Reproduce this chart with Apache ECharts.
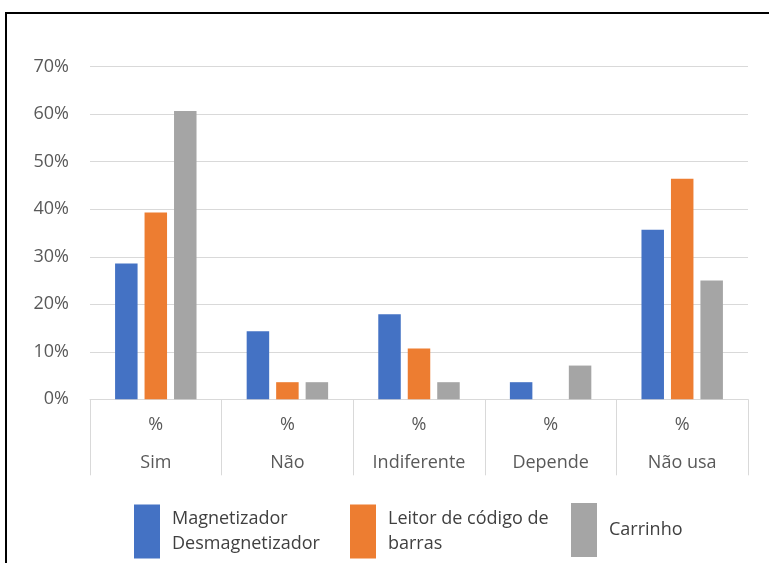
<!DOCTYPE html>
<html>
<head>
<meta charset="utf-8">
<script src="https://cdn.jsdelivr.net/npm/echarts@6/dist/echarts.min.js"></script>
<style>
  html, body { margin: 0; padding: 0; background: #fff; }
  #chart { width: 769px; height: 563px; }
</style>
</head>
<body>
<div id="chart"></div>
<script>
// categorias e valores (%)
var categorias = ['Sim', 'Não', 'Indiferente', 'Depende', 'Não usa'];
var magnetizador = [28.6, 14.3, 17.9, 3.6, 35.7];
var leitor = [39.3, 3.6, 10.7, 0, 46.4];
var carrinho = [60.7, 3.6, 3.6, 7.1, 25.0];
var nomes = ['Magnetizador\nDesmagnetizador', 'Leitor de código de\nbarras', 'Carrinho'];
var cores = ['#4472c4', '#ed7d31', '#a5a5a5'];

var fonte = '"Open Sans", sans-serif';
var myChart = echarts.init(document.getElementById('chart'));

function legenda(nome, left) {
  return {
    data: [nome],
    left: left,
    top: 503,
    padding: 0,
    icon: 'rect',
    itemWidth: 26,
    itemHeight: 54,
    selectedMode: false,
    textStyle: {
      fontFamily: fonte,
      fontSize: 18,
      color: '#404040',
      lineHeight: 25,
      padding: [7, 0, 0, 7]
    }
  };
}

var option = {
  animation: false,
  color: cores,
  grid: { left: 90, right: 21, top: 66.7, bottom: 163.7 },
  legend: [
    legenda(nomes[0], 134),
    legenda(nomes[1], 350),
    legenda(nomes[2], 571)
  ],
  xAxis: {
    type: 'category',
    data: categorias,
    axisLine: { lineStyle: { color: '#d9d9d9', width: 1 } },
    axisTick: { show: true, length: 76, lineStyle: { color: '#d9d9d9' } },
    axisLabel: {
      margin: 7,
      fontFamily: fonte,
      fontSize: 18,
      color: '#595959',
      lineHeight: 38,
      formatter: function (v) { return '%\n' + v; }
    }
  },
  yAxis: {
    type: 'value',
    min: 0,
    max: 70,
    interval: 10,
    axisLine: { show: false },
    axisTick: { show: false },
    splitLine: { lineStyle: { color: '#d9d9d9', width: 1 } },
    axisLabel: {
      margin: 21,
      fontFamily: fonte,
      fontSize: 18,
      color: '#595959',
      formatter: '{value}%'
    }
  },
  graphic: [{
    type: 'rect',
    shape: { x: 6, y: 13, width: 800, height: 600 },
    style: { fill: 'none', stroke: '#000', lineWidth: 2 },
    silent: true
  }],
  series: [
    { name: nomes[0], type: 'bar', data: magnetizador, barWidth: 22.5, barGap: '31%' },
    { name: nomes[1], type: 'bar', data: leitor, barWidth: 22.5, barGap: '31%' },
    { name: nomes[2], type: 'bar', data: carrinho, barWidth: 22.5, barGap: '31%' }
  ]
};

myChart.setOption(option);
</script>
</body>
</html>
